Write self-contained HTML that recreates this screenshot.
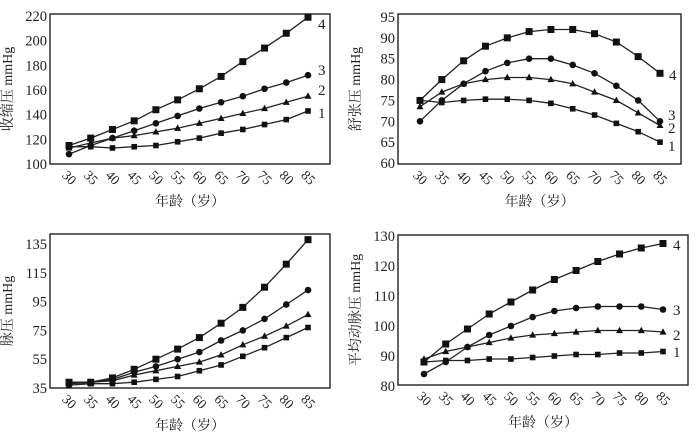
<!DOCTYPE html>
<html><head><meta charset="utf-8"><style>
html,body{margin:0;padding:0;background:#fff;}
svg text{font-family:"Liberation Serif","Noto Serif CJK SC",serif;fill:#222;}
</style></head><body>
<svg id="s" width="696" height="441" xmlns="http://www.w3.org/2000/svg"></svg>
<script>
const charts=[
 {bx:[50,330],by:[14,164],x0:69,x1:308,ymin:100,ymax:220,yt:[100,120,140,160,180,200,220],ytp:[164,16],title:"收缩压 mmHg",
  s:[[114,114,113,114,115,118,121,125,128,132,136,143],[113,117,121,123,126,129,133,137,141,145,150,155],[108,115,121,127,133,139,145,150,155,161,166,172],[115,121,128,135,144,152,161,171,183,194,206,219]],
  lab:[[318,118,"1"],[318,95,"2"],[318,75,"3"],[318,29,"4"]]},
 {bx:[398,681],by:[14,164],x0:420,x1:660,ymin:60,ymax:95,yt:[60,65,70,75,80,85,90,95],ytp:[163,17],title:"舒张压 mmHg",
  s:[[75,74.5,75,75.3,75.3,75,74.3,73,71.5,69.5,67.5,65],[73.5,77,79,80,80.5,80.5,80,79,77,75,72,69],[70,75,79,82,84,85,85,83.5,81.5,78.5,75,70],[75,80,84.5,88,90,91.5,92,92,91,89,85.5,81.5]],
  lab:[[668,151,"1"],[668,133,"2"],[668,120,"3"],[669,80,"4"]]},
 {bx:[50,330],by:[234,388],x0:69,x1:308,ymin:35,ymax:135,yt:[35,55,75,95,115,135],ytp:[388,244],title:"脉压 mmHg",
  s:[[37,38,38,39,41,43,47,51,57,63,70,77],[38,39,40,44,47,50,53,58,65,71,78,86],[38,39,41,46,50,55,60,68,75,83,93,103],[39,39,42,48,55,62,70,80,91,105,121,138]],lab:[]},
 {bx:[398,688],by:[235,385],x0:424,x1:663,ymin:80,ymax:130,yt:[80,90,100,110,120,130],ytp:[386,236],title:"平均动脉压 mmHg",
  s:[[88,88.5,88.5,89,89,89.5,90,90.5,90.5,91,91,91.5],[89,91.5,93,94.5,96,97,97.5,98,98.5,98.5,98.5,98],[84,88,93,97,100,103,105,106,106.5,106.5,106.5,105.5],[88,94,99,104,108,112,115.5,118.5,121.5,124,126,127.5]],
  lab:[[673,357,"1"],[673,340,"2"],[673,315,"3"],[673,250,"4"]]}
];
let h='';
for(const c of charts){
 const Y=v=>c.ytp[0]+(v-c.ymin)*(c.ytp[1]-c.ytp[0])/(c.ymax-c.ymin);
 const X=i=>c.x0+i*(c.x1-c.x0)/11;
 h+=`<rect x="${c.bx[0]}" y="${c.by[0]}" width="${c.bx[1]-c.bx[0]}" height="${c.by[1]-c.by[0]}" fill="none" stroke="#222" stroke-width="1.4"/>`;
 for(const t of c.yt){h+=`<text x="${c.bx[0]-3}" y="${Y(t)+5}" font-size="14.5" text-anchor="end">${t}</text>`;}
 for(let i=0;i<12;i++){const x=X(i),y=c.by[1]+14;h+=`<text x="${x}" y="${y+4}" font-size="13.5" text-anchor="middle" transform="rotate(45 ${x} ${y})">${30+5*i}</text>`;}
 const mx=(c.bx[0]+c.bx[1])/2;
 h+=`<text x="${mx}" y="${c.by[1]+42}" font-size="14" text-anchor="middle">年龄（岁）</text>`;
 const ty=(c.by[0]+c.by[1])/2, tx=c.bx[0]-42;
 h+=`<text x="${tx}" y="${ty}" font-size="14" text-anchor="middle" transform="rotate(-90 ${tx} ${ty})" dy="4">${c.title}</text>`;
 c.s.forEach((d,k)=>{
  const pts=d.map((v,i)=>X(i).toFixed(1)+","+Y(v).toFixed(1)).join(" ");
  h+=`<polyline points="${pts}" fill="none" stroke="#222" stroke-width="1.3"/>`;
  d.forEach((v,i)=>{const x=X(i),y=Y(v);
   if(k==0)h+=`<rect x="${x-2.8}" y="${y-2.8}" width="5.6" height="5.6" fill="#111"/>`;
   else if(k==1)h+=`<polygon points="${x},${y-3.8} ${x-3.5},${y+2.6} ${x+3.5},${y+2.6}" fill="#111"/>`;
   else if(k==2)h+=`<circle cx="${x}" cy="${y}" r="3.3" fill="#111"/>`;
   else h+=`<rect x="${x-3.5}" y="${y-3.5}" width="7" height="7" fill="#111"/>`;
  });
 });
 for(const l of c.lab)h+=`<text x="${l[0]}" y="${l[1]}" font-size="15">${l[2]}</text>`;
}
document.getElementById('s').innerHTML=h;
</script>
</body></html>
